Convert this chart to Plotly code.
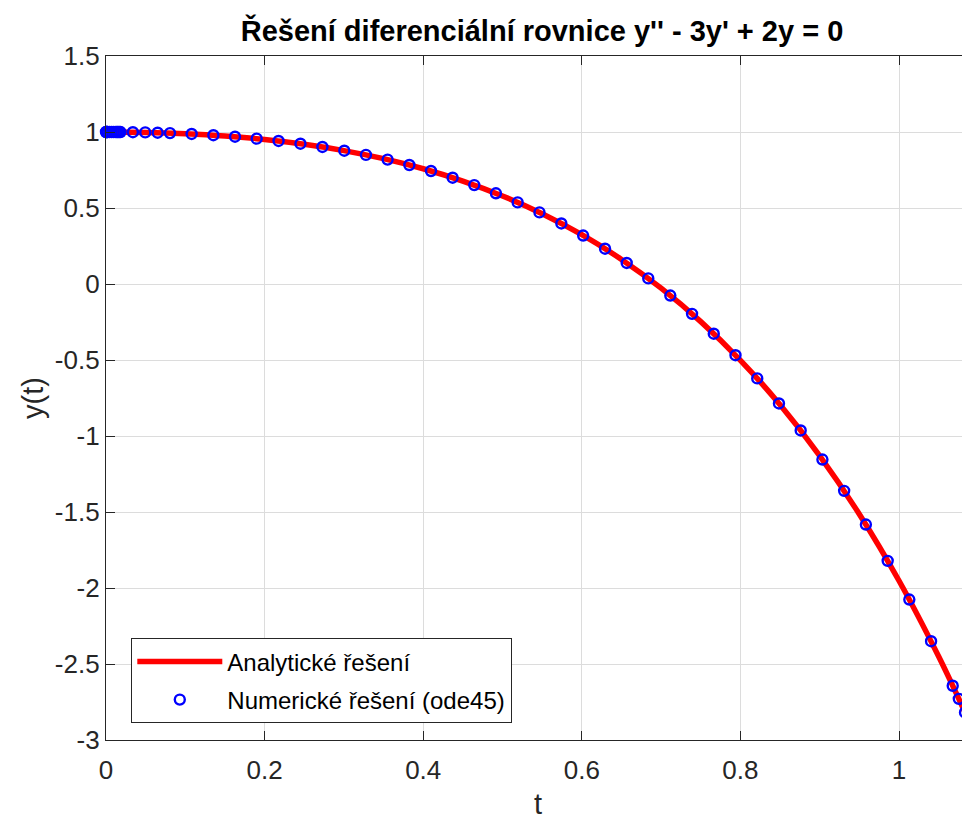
import plotly.graph_objects as go

# Analytic solution
t_line = [0.0, 0.05, 0.10, 0.15, 0.20, 0.25, 0.30, 0.35, 0.40, 0.45, 0.50,
          0.55, 0.60, 0.65, 0.70, 0.75, 0.80, 0.85, 0.90, 0.95, 1.00, 1.05,
          1.075, 1.0986]
y_line = [1.0, 0.9974, 0.9889, 0.9738, 0.9510, 0.9193, 0.8776, 0.8244,
          0.7581, 0.6770, 0.5792, 0.4623, 0.3241, 0.1618, -0.0277, -0.2477,
          -0.5020, -0.7947, -1.1304, -1.5145, -1.9525, -2.4509, -2.7249, -3.0]

# Numerical solution (ode45 output points)
t_num = [0.0, 0.0005, 0.0010, 0.0015, 0.0020, 0.0046, 0.0072, 0.0098, 0.0124,
         0.0139, 0.0153, 0.0168, 0.0183, 0.0339, 0.0495, 0.0651, 0.0807,
         0.1080, 0.1354, 0.1627, 0.1900, 0.2176, 0.2452, 0.2729, 0.3005,
         0.3278, 0.3551, 0.3825, 0.4098, 0.4371, 0.4644, 0.4917, 0.5191,
         0.5466, 0.5742, 0.6017, 0.6293, 0.6566, 0.6838, 0.7116, 0.7390,
         0.7664, 0.7938, 0.8212, 0.8486, 0.8760, 0.9034, 0.9308, 0.9582,
         0.9857, 1.0130, 1.0404, 1.0677, 1.0754, 1.0832, 1.0909, 1.0986]
y_num = [1.0, 1.0, 1.0, 1.0, 1.0, 1.0, 0.9999, 0.9999, 0.9998,
         0.9998, 0.9998, 0.9997, 0.9997, 0.9988, 0.9974, 0.9955, 0.9929,
         0.9870, 0.9790, 0.9688, 0.9562, 0.9409, 0.9228, 0.9015, 0.8771,
         0.8495, 0.8183, 0.7829, 0.7434, 0.6995, 0.6507, 0.5967, 0.5369,
         0.4709, 0.3983, 0.3190, 0.2321, 0.1384, 0.0369, -0.0759, -0.1965,
         -0.3271, -0.4684, -0.6211, -0.7859, -0.9636, -1.1550, -1.3610, -1.5824,
         -1.8214, -2.0760, -2.3502, -2.6431, -2.7294, -2.8186, -2.9084, -3.0]

x_ticks = [0, 0.2, 0.4, 0.6, 0.8, 1.0]
x_tick_text = ["0", "0.2", "0.4", "0.6", "0.8", "1"]
y_ticks = [-3, -2.5, -2, -1.5, -1, -0.5, 0, 0.5, 1, 1.5]
y_tick_text = ["-3", "-2.5", "-2", "-1.5", "-1", "-0.5", "0", "0.5", "1", "1.5"]

FONT = "Liberation Sans, Arial, Helvetica, sans-serif"
AX = "#262626"

W, H = 962, 812          # page has an 8px body margin
L, T, B = 98, 48, 80
PW = W - L               # plot width
PH = H - T - B           # plot height

fig = go.Figure()
fig.add_trace(go.Scatter(
    x=t_line, y=y_line, mode="lines", name="Analytické řešení",
    line=dict(color="#ff0000", width=5.5, shape="spline"),
    legendgroup="a",
))
fig.add_trace(go.Scatter(
    x=t_num, y=y_num, mode="markers", name="Numerické řešení (ode45)",
    marker=dict(symbol="circle-open", color="#0000ff", size=10,
                line=dict(width=2.4, color="#0000ff")),
    cliponaxis=False, legendgroup="b",
))

fig.update_layout(
    width=W, height=H,
    margin=dict(l=L, r=0, t=T, b=B),
    paper_bgcolor="white", plot_bgcolor="white",
    font=dict(family=FONT, color=AX, size=26),
    title=dict(text="<b>Řešení diferenciální rovnice y'' - 3y' + 2y = 0</b>",
               font=dict(family=FONT, size=29, color="#000000"),
               x=(542 - 8) / W, xref="container", xanchor="center",
               y=1 - 23 / H, yref="container", yanchor="middle"),
    showlegend=True,
    legend=dict(x=(131 - 106) / PW, y=(740 - 723) / PH,
                xanchor="left", yanchor="bottom",
                bgcolor="white", bordercolor=AX, borderwidth=1.3,
                font=dict(family=FONT, size=24, color="#000000"),
                itemwidth=85, tracegroupgap=4),
    xaxis=dict(range=[0, 1.0895], tickvals=x_ticks, ticktext=x_tick_text,
               showgrid=True, gridcolor="#dcdcdc", gridwidth=1.3,
               zeroline=False, showline=True, linecolor=AX, linewidth=1.3,
               mirror="ticks", ticks="inside", ticklen=9, tickcolor=AX,
               tickwidth=1.3, tickfont=dict(size=26, color=AX),
               ticklabelstandoff=7,
               title=dict(text="t", font=dict(size=29, color=AX), standoff=13)),
    yaxis=dict(range=[-3, 1.5], tickvals=y_ticks, ticktext=y_tick_text,
               showgrid=True, gridcolor="#dcdcdc", gridwidth=1.3,
               zeroline=False, showline=True, linecolor=AX, linewidth=1.3,
               mirror=False, ticks="inside", ticklen=9, tickcolor=AX,
               tickwidth=1.3, tickfont=dict(size=26, color=AX),
               title=dict(text="y(t)", font=dict(size=29, color=AX), standoff=2)),
)

fig.write_html("out.html")
